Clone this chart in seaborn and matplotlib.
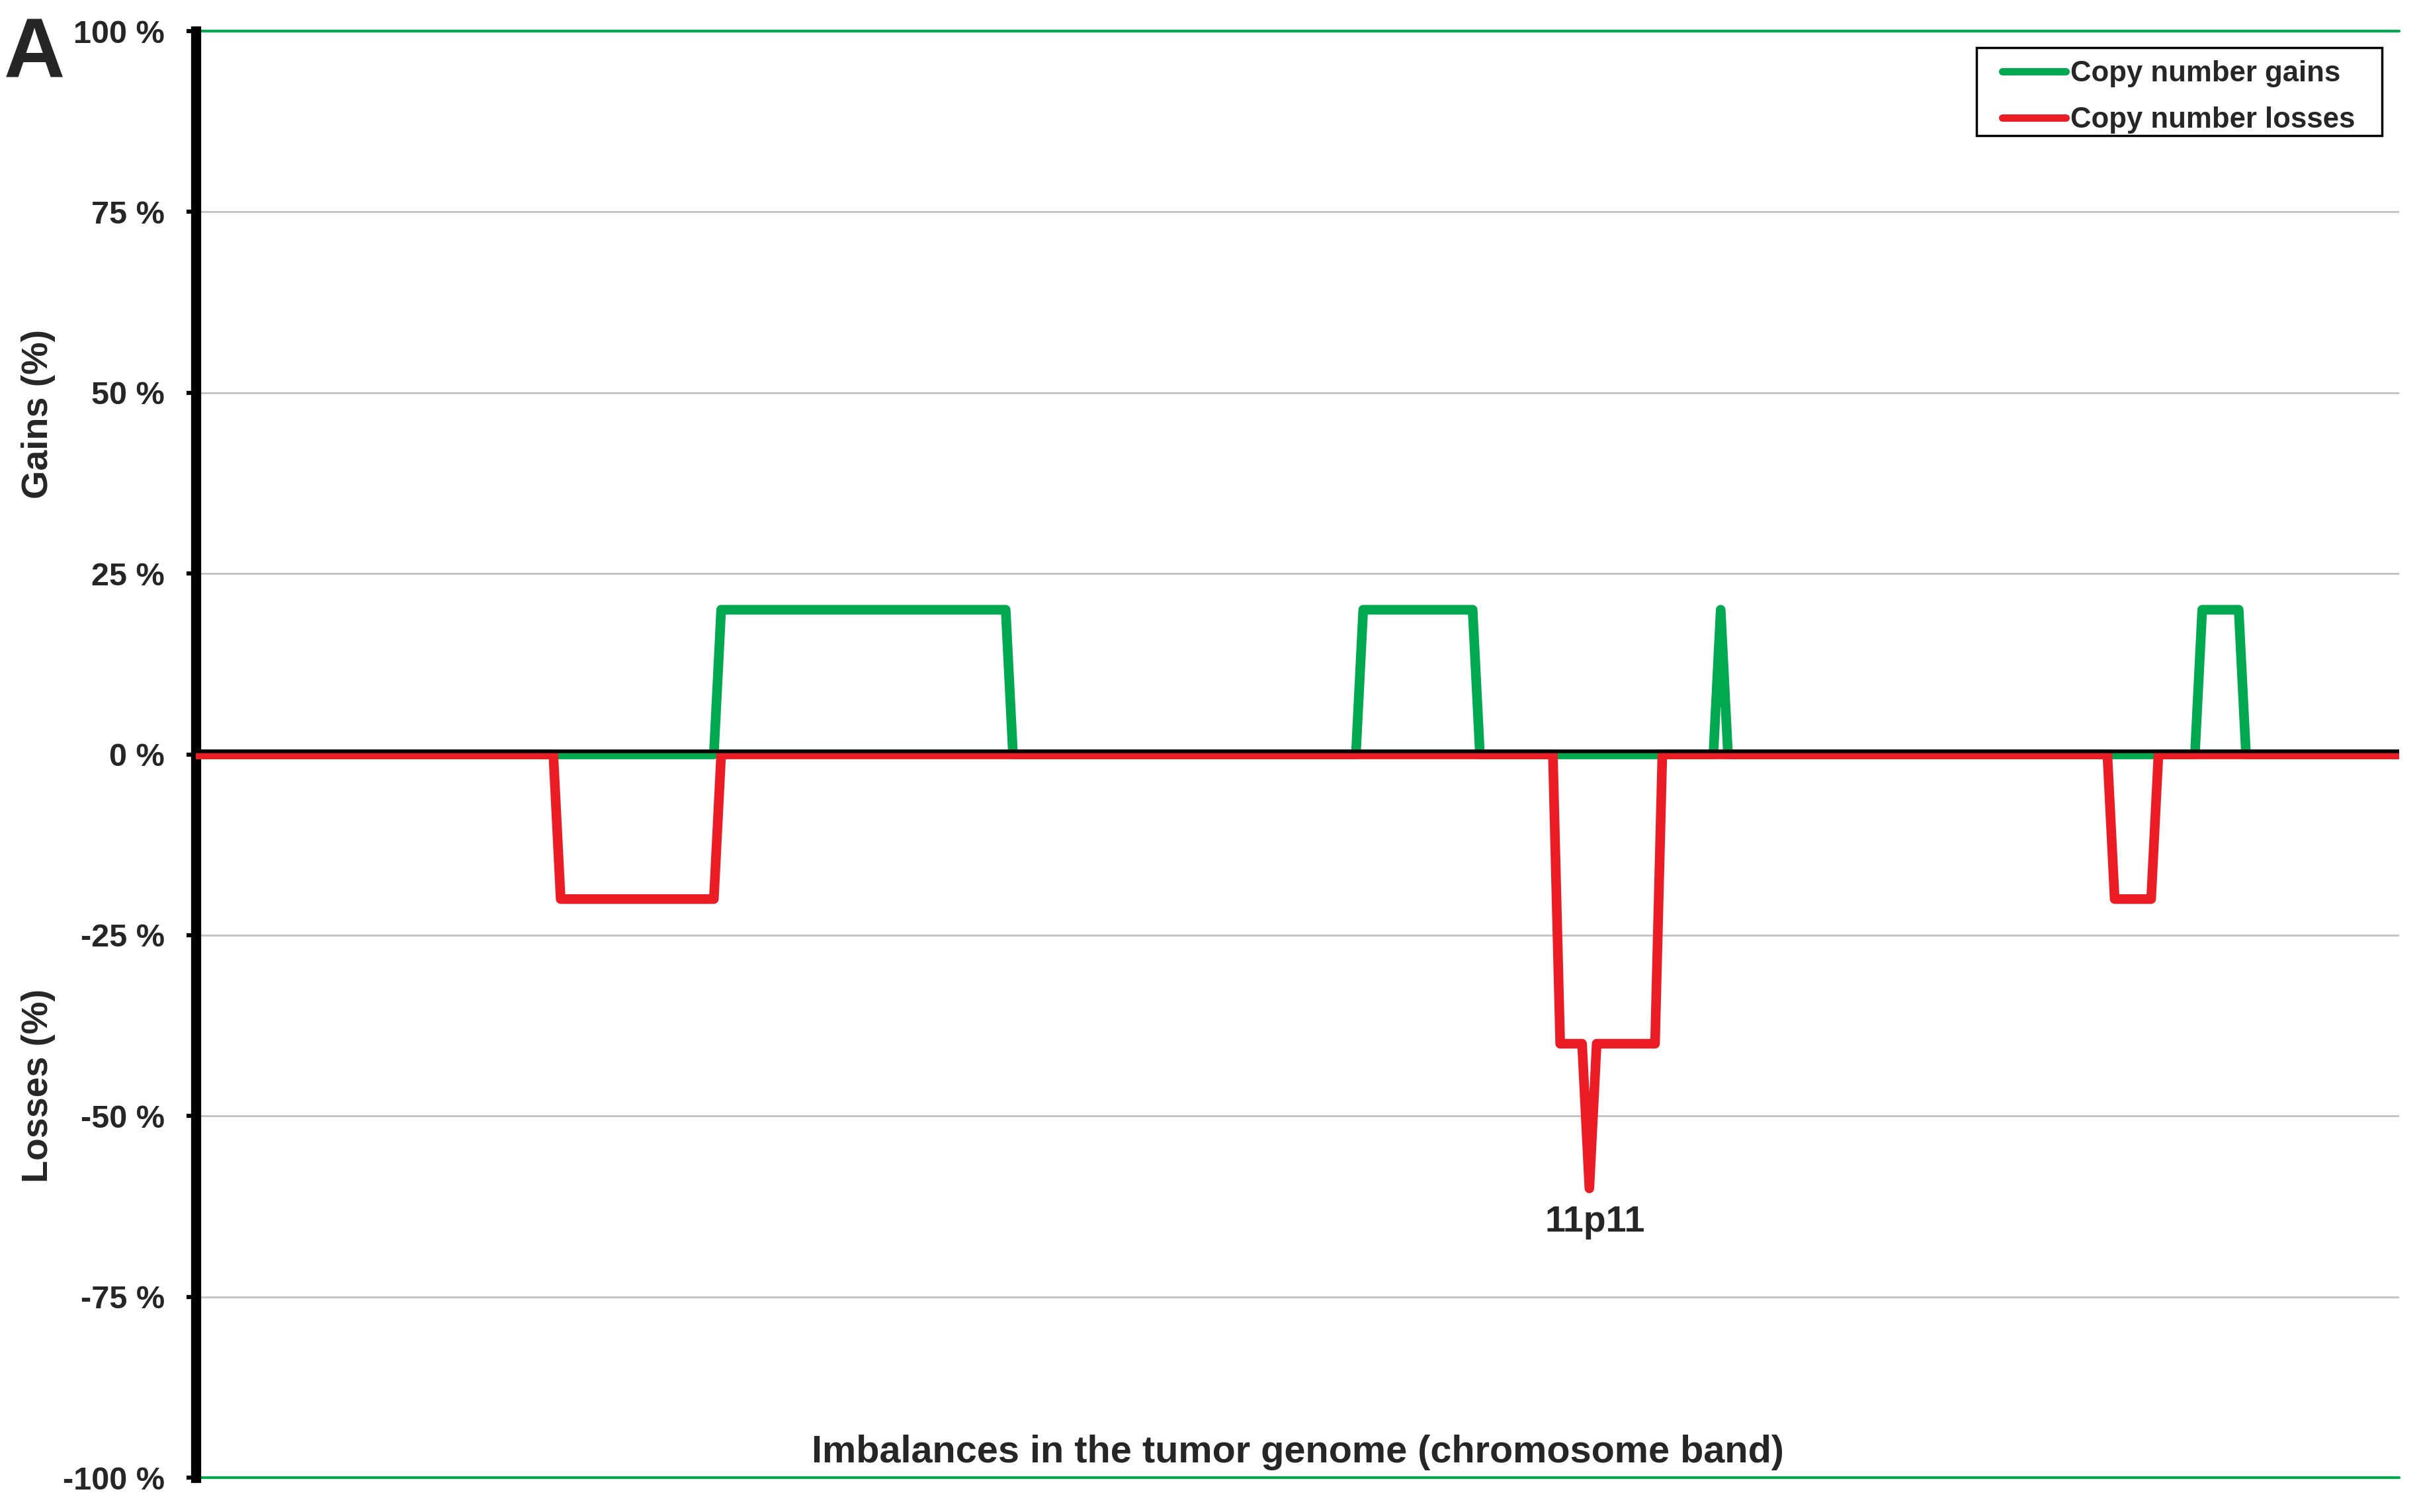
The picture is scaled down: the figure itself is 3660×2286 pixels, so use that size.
import pandas as pd
import matplotlib.pyplot as plt
import seaborn as sns
from matplotlib.patches import Rectangle
from matplotlib.transforms import ScaledTranslation

# chromosome band index (along the genome) and % of tumors
gain_band = [0, 71, 72, 111, 112, 159, 160, 175, 176, 208, 209, 210, 274, 275, 280, 281, 302]
gain_pct = [0, 0, 20, 20, 0, 0, 20, 20, 0, 0, 20, 0, 0, 20, 20, 0, 0]
loss_band = [0, 49, 50, 71, 72, 186, 187, 190, 191, 192, 200, 201, 262, 263, 268, 269, 302]
loss_pct = [0, 0, -20, -20, 0, 0, -40, -40, -60, -40, -40, 0, 0, -20, -20, 0, 0]

series_names = ['Copy number gains', 'Copy number losses']
series_colors = ['#00a84f', '#ec1c24']
y_ticks = [-100, -75, -50, -25, 0, 25, 50, 75, 100]
y_ticklabels = ['-100 %', '-75 %', '-50 %', '-25 %', '0 %', '25 %', '50 %', '75 %', '100 %']
peak_label = '11p11'

df = pd.concat([
    pd.DataFrame({'band': gain_band, 'pct': gain_pct, 'type': series_names[0]}),
    pd.DataFrame({'band': loss_band, 'pct': loss_pct, 'type': series_names[1]}),
], ignore_index=True)

sns.set_style('white')
plt.rcParams['font.family'] = ['Liberation Sans', 'DejaVu Sans']

fig = plt.figure(figsize=(36.6, 22.86), dpi=100)
ax = fig.add_axes([0.0809, 0.0227, 0.9101, 0.9567])

sns.lineplot(data=df, x='band', y='pct', hue='type', hue_order=series_names,
             palette=dict(zip(series_names, series_colors)), estimator=None, sort=False,
             linewidth=10.5, zorder=3, ax=ax)

ax.set_xlim(gain_band[0], gain_band[-1])
ax.set_ylim(y_ticks[0], y_ticks[-1])
ax.set_xticks([])
ax.set_yticks(y_ticks, y_ticklabels)
ax.yaxis.grid(True, color='#c0c0c0', linewidth=2)
ax.set_axisbelow(True)

# green lines at the top and bottom of the plot area
for v in (y_ticks[0], y_ticks[-1]):
    ax.axhline(v, color=series_colors[0], linewidth=3, clip_on=False, zorder=2)

# black zero line, sitting on the top edge of the data lines
shift = ScaledTranslation(0, 0.05, fig.dpi_scale_trans)
ax.plot([0, 1], [0, 0], color='black', linewidth=4, zorder=4,
        transform=ax.get_yaxis_transform() + shift)

for side in ('top', 'right', 'bottom'):
    ax.spines[side].set_visible(False)
ax.spines['left'].set_linewidth(11)
ax.spines['left'].set_color('black')
ax.tick_params(axis='y', left=True, length=10, width=4.5, color='black', pad=24,
               labelsize=35)
for t in ax.get_yticklabels():
    t.set_fontweight('bold')

ax.set_ylabel('')
ax.set_xlabel('Imbalances in the tumor genome (chromosome band)', fontsize=41.5,
              fontweight='bold')
ax.xaxis.set_label_coords(0.5, 0.0174)
ax.xaxis.label.set_va('center')

fig.text(0.0158, 0.726, 'Gains (%)', rotation=90, ha='center', va='center',
         fontsize=40, fontweight='bold')
fig.text(0.0158, 0.282, 'Losses (%)', rotation=90, ha='center', va='center',
         fontsize=40, fontweight='bold')
fig.text(0.0015, 0.9484, 'A', ha='left', va='baseline', fontsize=92, fontweight='bold')

i_min = loss_pct.index(min(loss_pct))
ax.text(loss_band[i_min] + 0.8, min(loss_pct) - 4.7, peak_label, ha='center',
        va='center', fontsize=40, fontweight='bold')

# legend without its own frame; the box is drawn separately to get the wide side margins
handles, labels = ax.get_legend_handles_labels()
leg = ax.legend(handles, labels, loc='upper left', bbox_to_anchor=(0.8199, 0.9797),
                borderaxespad=0, borderpad=0, frameon=False, handlelength=2.2,
                handletextpad=0.15, labelspacing=0.66,
                prop={'weight': 'bold', 'size': 31.5})
for line in leg.get_lines():
    line.set_linewidth(8)
ax.add_patch(Rectangle((0.8082, 0.9278), 0.184, 0.0608, transform=ax.transAxes,
                       facecolor='none', edgecolor='black', linewidth=2.5,
                       clip_on=False, zorder=5))

fig.savefig('out.png', dpi=100)
